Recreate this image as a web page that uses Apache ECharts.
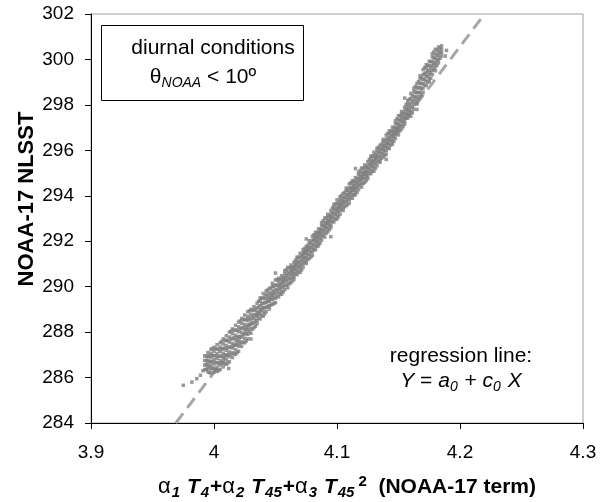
<!DOCTYPE html>
<html><head><meta charset="utf-8">
<script src="https://cdn.jsdelivr.net/npm/echarts@6/dist/echarts.min.js"></script>
<style>html,body{margin:0;padding:0;background:#fff}#c{width:606px;height:502px}</style>
</head><body><div id="c"></div>
<script>
// Scatter band, set 1: column x positions and the y values read in each column
const bandX = [3.9925,3.995,3.9975,4.000,4.0025,4.005,4.0075,4.010,4.0125,4.015,4.0175,4.020,4.0225,4.025,4.0275,
4.030,4.0325,4.035,4.0375,4.040,4.0425,4.045,4.0475,4.050,4.0525,4.055,4.0575,4.060,
4.0625,4.065,4.0675,4.070,4.0725,4.075,4.0775,4.080,4.0825,4.085,4.0875,4.090,4.0925,4.095,4.0975,4.100,
4.1025,4.105,4.1075,4.110,4.1125,4.115,4.1175,4.120,4.1225,4.125,4.1275,4.130,4.1325,4.135,4.1375,4.140,
4.1425,4.145,4.1475,4.150,4.1525,4.155,4.1575,4.160,4.1625,4.165,4.1675,4.170,4.1725,4.175,4.1775,4.180,4.1825,4.185];
const bandY = [
[286.35,286.55,286.75,286.95],
[286.25,286.41,286.57,286.73,286.91,287.1],
[286.2,286.38,286.55,286.72,286.9,287.07,287.25],
[286.24,286.42,286.6,286.79,286.97,287.16,287.33],
[286.27,286.46,286.66,286.85,287.05,287.25,287.45],
[286.36,286.55,286.74,286.94,287.14,287.34,287.53],
[286.47,286.67,286.87,287.07,287.27,287.48,287.7],
[286.58,286.79,287.0,287.2,287.41,287.62,287.84],
[286.7,286.92,287.13,287.34,287.56,287.78,288.0],
[286.88,287.09,287.3,287.5,287.72,287.93,288.14],
[287.02,287.22,287.43,287.65,287.86,288.08,288.3],
[287.16,287.38,287.59,287.8,288.02,288.23,288.44],
[287.37,287.57,287.78,287.98,288.18,288.39,288.6],
[287.53,287.73,287.93,288.13,288.34,288.55,288.75],
[287.7,287.9,288.1,288.3,288.5,288.7,288.9],
[287.95,288.15,288.35,288.55,288.77,289.0],
[288.2,288.4,288.6,288.77,288.97,289.12],
[288.37,288.51,288.7,288.88,289.07,289.27],
[288.58,288.78,288.98,289.16,289.36,289.5],
[288.7,288.89,289.08,289.27,289.48,289.7],
[288.9,289.1,289.3,289.47,289.67,289.82],
[289.02,289.16,289.35,289.53,289.72,289.92],
[289.23,289.43,289.63,289.81,290.01,290.15],
[289.3,289.49,289.68,289.87,290.08,290.3],
[289.55,289.73,289.91,290.06,290.24,290.37],
[289.67,289.79,289.97,290.13,290.3,290.48],
[289.87,290.05,290.23,290.39,290.57,290.7],
[289.95,290.12,290.29,290.46,290.65,290.85],
[290.18,290.35,290.52,290.66,290.83,290.95],
[290.32,290.43,290.59,290.75,290.9,291.07],
[290.53,290.7,290.86,291.01,291.18,291.3],
[290.63,290.79,290.95,291.11,291.29,291.47],
[290.86,291.03,291.2,291.34,291.51,291.63],
[291.02,291.13,291.29,291.45,291.6,291.77],
[291.25,291.42,291.58,291.73,291.9,292.02],
[291.38,291.54,291.7,291.86,292.04,292.22],
[291.62,291.79,291.96,292.1,292.27,292.39],
[291.8,291.91,292.07,292.23,292.38,292.55],
[292.05,292.22,292.38,292.53,292.7,292.82],
[292.18,292.34,292.5,292.66,292.84,293.02],
[292.42,292.59,292.76,292.9,293.07,293.19],
[292.6,292.71,292.87,293.03,293.18,293.35],
[292.85,293.02,293.18,293.33,293.5,293.62],
[292.98,293.14,293.3,293.46,293.64,293.82],
[293.19,293.36,293.53,293.67,293.84,293.96],
[293.35,293.46,293.62,293.78,293.93,294.1],
[293.57,293.74,293.9,294.05,294.22,294.34],
[293.68,293.84,294.0,294.16,294.34,294.52],
[293.89,294.06,294.23,294.37,294.54,294.66],
[294.05,294.16,294.32,294.48,294.63,294.8],
[294.27,294.44,294.6,294.75,294.92,295.04],
[294.38,294.54,294.7,294.86,295.04,295.22],
[294.59,294.76,294.93,295.07,295.24,295.36],
[294.75,294.86,295.02,295.18,295.33,295.5],
[294.97,295.14,295.3,295.45,295.62,295.74],
[295.08,295.24,295.4,295.56,295.74,295.92],
[295.32,295.49,295.66,295.8,295.97,296.09],
[295.47,295.58,295.74,295.9,296.05,296.22],
[295.71,295.88,296.04,296.19,296.36,296.48],
[295.83,295.99,296.15,296.31,296.49,296.67],
[296.08,296.25,296.42,296.56,296.73,296.85],
[296.27,296.38,296.54,296.7,296.85,297.02],
[296.53,296.7,296.86,297.01,297.18,297.3],
[296.68,296.84,297.0,297.16,297.34,297.52],
[296.94,297.11,297.28,297.42,297.59,297.71],
[297.15,297.26,297.42,297.58,297.73,297.9],
[297.42,297.59,297.75,297.9,298.07,298.19],
[297.5,297.69,297.88,298.07,298.28,298.5],
[297.81,298.01,298.21,298.38,298.58,298.73],
[298.04,298.18,298.37,298.55,298.74,298.94],
[298.36,298.56,298.76,298.94,299.14,299.28],
[298.55,298.74,298.93,299.12,299.33,299.55],
[298.85,299.05,299.25,299.42,299.62,299.77],
[299.02,299.16,299.35,299.53,299.72,299.92],
[299.33,299.53,299.73,299.91,300.11,300.25],
[299.5,299.68,299.86,300.04,300.24,300.45],
[299.85,300.0,300.18,300.35,300.55],
[300.15,300.3,300.45,300.6]
];
// Scatter band, set 2: columns lying between those of set 1
const band2X = [3.99375,3.99625,3.99875,4.00125,4.00375,4.00625,4.00875,4.01125,4.01375,4.01625,4.01875,4.02125,4.02375,4.02625,4.02875,
4.03125,4.03375,4.03625,4.03875,4.04125,4.04375,4.04625,4.04875,4.05125,4.05375,4.05625,4.05875,4.06125,
4.06375,4.06625,4.06875,4.07125,4.07375,4.07625,4.07875,4.08125,4.08375,4.08625,4.08875,4.09125,4.09375,4.09625,4.09875,
4.10125,4.10375,4.10625,4.10875,4.11125,4.11375,4.11625,4.11875,4.12125,4.12375,4.12625,4.12875,4.13125,4.13375,4.13625,4.13875,
4.14125,4.14375,4.14625,4.14875,4.15125,4.15375,4.15625,4.15875,4.16125,4.16375,4.16625,4.16875,4.17125,4.17375,4.17625,4.17875,4.18125,4.18375];
const band2Y = [
[286.36,286.56,286.75,286.95],[286.22,286.48,286.71,286.96],[286.41,286.69,286.97,287.27],[286.34,286.66,286.96,287.28],
[286.31,286.63,286.92,287.23],[286.63,286.94,287.25,287.59],[286.62,286.97,287.3,287.65],[286.64,286.99,287.31,287.64],
[287.02,287.35,287.69,288.04],[287.05,287.41,287.74,288.09],[287.09,287.44,287.76,288.09],[287.49,287.81,288.14,288.49],
[287.55,287.89,288.21,288.55],[287.61,287.94,288.24,288.56],[288.02,288.32,288.61,288.93],[288.13,288.41,288.67,288.95],
[288.26,288.51,288.75,288.99],[288.61,288.85,289.1,289.36],[288.72,288.99,289.24,289.5],[288.8,289.06,289.3,289.55],
[289.12,289.36,289.6,289.85],[289.19,289.45,289.68,289.94],[289.26,289.52,289.76,290.01],[289.58,289.82,290.06,290.31],
[289.67,289.9,290.11,290.34],[289.77,289.99,290.2,290.41],[290.06,290.29,290.51,290.75],[290.13,290.36,290.58,290.82],
[290.25,290.46,290.65,290.84],[290.56,290.75,290.95,291.16],[290.64,290.87,291.08,291.3],[290.74,290.96,291.16,291.37],
[291.08,291.27,291.47,291.68],[291.19,291.41,291.61,291.82],[291.31,291.53,291.73,291.94],[291.64,291.85,292.06,292.28],
[291.77,291.98,292.18,292.39],[291.92,292.13,292.32,292.51],[292.26,292.47,292.68,292.9],[292.36,292.59,292.8,293.02],
[292.51,292.72,292.91,293.1],[292.86,293.05,293.25,293.46],[292.97,293.2,293.41,293.64],[293.08,293.3,293.5,293.71],
[293.41,293.6,293.8,294.01],[293.52,293.73,293.93,294.14],[293.62,293.84,294.04,294.25],[293.93,294.14,294.35,294.57],
[294.03,294.24,294.44,294.65],[294.16,294.37,294.56,294.75],[294.47,294.68,294.89,295.11],[294.54,294.77,294.98,295.21],
[294.67,294.88,295.07,295.26],[295.0,295.19,295.39,295.6],[295.08,295.31,295.52,295.75],[295.2,295.42,295.62,295.82],
[295.53,295.72,295.92,296.13],[295.65,295.86,296.06,296.27],[295.77,295.99,296.19,296.4],[296.1,296.31,296.52,296.74],
[296.23,296.44,296.64,296.85],[296.4,296.61,296.8,296.99],[296.75,296.96,297.17,297.39],[296.87,297.1,297.31,297.53],
[297.04,297.25,297.44,297.63],[297.42,297.61,297.81,298.02],[297.53,297.78,298.0,298.25],[297.65,297.91,298.15,298.4],
[298.08,298.32,298.56,298.81],[298.27,298.53,298.76,299.02],[298.45,298.71,298.95,299.2],[298.87,299.12,299.37,299.64],
[299.0,299.26,299.49,299.75],[299.17,299.42,299.66,299.9],[299.58,299.82,300.07,300.33],[299.74,299.97,300.18,300.42],
[300.05,300.3,300.5]
];
// Isolated points off the main band
const strayX = [3.975,3.982,3.986,3.989,3.991,4.012,4.030,4.050,4.075,4.095,4.115,4.140,4.155,4.165,4.188,4.189];
const strayY = [285.66,285.8,285.95,286.1,286.3,286.4,287.7,290.6,292.1,292.2,295.2,295.6,298.3,297.8,300.15,300.4];
// Regression line end points
const regX = [3.969, 4.220];
const regY = [284, 302];

const pts = [];
bandX.forEach((x, i) => bandY[i].forEach(y => pts.push([x, y])));
band2X.forEach((x, i) => band2Y[i].forEach(y => pts.push([x, y])));
strayX.forEach((x, i) => pts.push([x, strayY[i]]));

const FONT = 'Liberation Sans, Arial, sans-serif';
const chart = echarts.init(document.getElementById('c'), null, {renderer: 'canvas'});
chart.setOption({
  animation: false,
  backgroundColor: '#fff',
  grid: {left: 91, right: 23, top: 14, bottom: 79, show: true, borderColor: '#a0a0a0', borderWidth: 1,
         containLabel: false, outerBoundsMode: 'none'},
  xAxis: {
    type: 'value', min: 3.9, max: 4.3, interval: 0.1,
    axisLine: {show: true, onZero: false, lineStyle: {color: '#000', width: 1}},
    axisTick: {show: true, inside: false, length: 6, lineStyle: {color: '#000'}},
    splitLine: {show: false},
    axisLabel: {fontFamily: FONT, fontSize: 19, color: '#000', margin: 20, formatter: v => String(+v.toFixed(1))}
  },
  yAxis: {
    type: 'value', min: 284, max: 302, interval: 2,
    axisLine: {show: true, onZero: false, lineStyle: {color: '#000', width: 1}},
    axisTick: {show: true, inside: false, length: 6, lineStyle: {color: '#000'}},
    splitLine: {show: false},
    axisLabel: {fontFamily: FONT, fontSize: 19, color: '#000', margin: 17}
  },
  series: [
    {type: 'line', data: regX.map((x, i) => [x, regY[i]]), symbol: 'none', z: 1,
     lineStyle: {color: '#a6a6a6', width: 3, type: [12, 7]}, silent: true},
    {type: 'scatter', data: pts, symbol: 'rect', symbolSize: 3.5, z: 2, silent: true,
     itemStyle: {color: '#808080'}}
  ],
  graphic: [
    {type: 'rect', shape: {x: 101.5, y: 25.5, width: 202, height: 75}, style: {fill: '#fff', stroke: '#000', lineWidth: 1}, z: 10},
    {type: 'text', x: 213, y: 48, z: 11, style: {text: 'diurnal conditions', fontFamily: FONT, fontSize: 21, fill: '#000', align: 'center', verticalAlign: 'middle'}},
    {type: 'text', x: 203, y: 77, z: 11, style: {
      text: '{n|θ}{s|NOAA}{n| < 10º}', align: 'center', verticalAlign: 'middle', fontFamily: FONT, fontSize: 21, fill: '#000',
      rich: {n: {fontFamily: FONT, fontSize: 21, fill: '#000', lineHeight: 26, verticalAlign: 'middle'},
             s: {fontFamily: FONT, fontSize: 14, fontStyle: 'italic', fill: '#000', lineHeight: 26, verticalAlign: 'bottom', padding: [8, 0, 0, 0]}}}},
    {type: 'text', x: 461, y: 356, z: 11, style: {text: 'regression line:', fontFamily: FONT, fontSize: 21, fill: '#000', align: 'center', verticalAlign: 'middle'}},
    {type: 'text', x: 461, y: 381, z: 11, style: {
      text: '{i|Y}{n| = }{i|a}{s|0}{n| + }{i|c}{s|0}{i| X}', align: 'center', verticalAlign: 'middle', fontFamily: FONT, fontSize: 21, fill: '#000',
      rich: {n: {fontFamily: FONT, fontSize: 21, fill: '#000', lineHeight: 26, verticalAlign: 'middle'},
             i: {fontFamily: FONT, fontSize: 21, fontStyle: 'italic', fill: '#000', lineHeight: 26, verticalAlign: 'middle'},
             s: {fontFamily: FONT, fontSize: 14, fontStyle: 'italic', fill: '#000', lineHeight: 26, verticalAlign: 'bottom', padding: [8, 1, 0, 0]}}}},
    {type: 'text', x: 27, y: 199, rotation: Math.PI / 2, z: 11, style: {
      text: 'NOAA-17 NLSST', fontFamily: FONT, fontSize: 22, fontWeight: 'bold', fill: '#000', align: 'center', verticalAlign: 'middle'}},
    {type: 'text', x: 347, y: 487, z: 11, style: {
      text: '{a|α}{s|1}{t| T}{s|4}{b|+}{a|α}{s|2}{t| T}{s|45}{b|+}{a|α}{s|3}{t| T}{s|45}{p|2}{b|  (NOAA-17 term)}',
      align: 'center', verticalAlign: 'middle', fontFamily: FONT, fontSize: 21, fill: '#000',
      rich: {
        a: {fontFamily: FONT, fontSize: 22, fill: '#000', lineHeight: 26, verticalAlign: 'middle'},
        s: {fontFamily: FONT, fontSize: 15, fontWeight: 'bold', fontStyle: 'italic', fill: '#000', lineHeight: 26, verticalAlign: 'bottom', padding: [9, 1, 0, 1]},
        t: {fontFamily: FONT, fontSize: 21, fontWeight: 'bold', fontStyle: 'italic', fill: '#000', lineHeight: 26, verticalAlign: 'middle'},
        p: {fontFamily: FONT, fontSize: 15, fontWeight: 'bold', fill: '#000', lineHeight: 26, verticalAlign: 'top', padding: [0, 0, 9, 3]},
        b: {fontFamily: FONT, fontSize: 21, fontWeight: 'bold', fill: '#000', lineHeight: 26, verticalAlign: 'middle'}
      }}}
  ]
});
</script></body></html>
